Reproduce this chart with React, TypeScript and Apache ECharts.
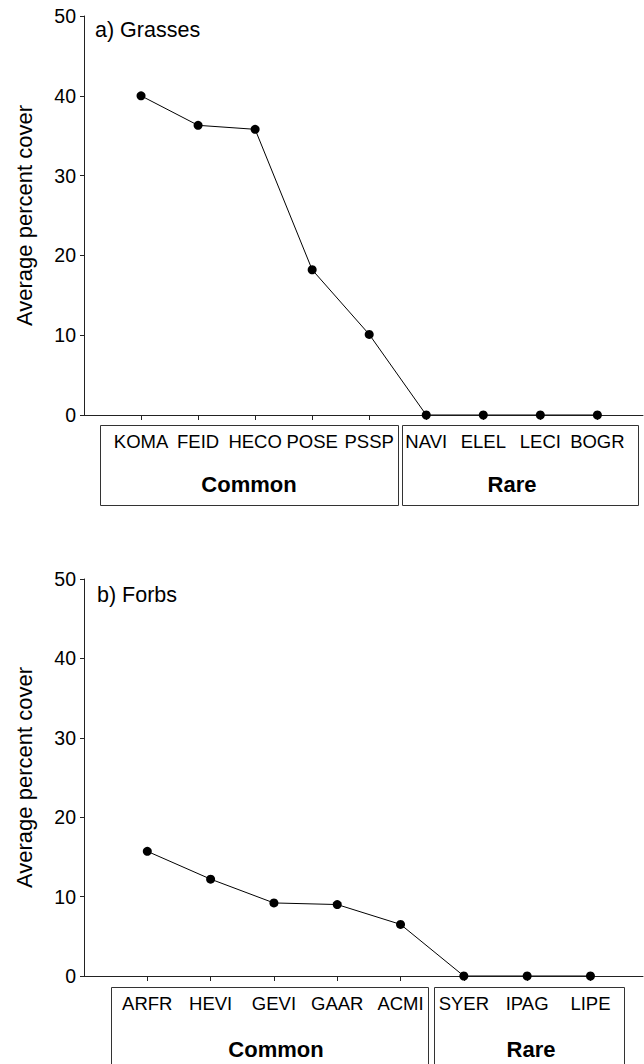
import React, { useEffect, useRef } from "react";
import * as echarts from "echarts";

// Grass species, ordered by cover
const grassNames = ["KOMA", "FEID", "HECO", "POSE", "PSSP", "NAVI", "ELEL", "LECI", "BOGR"];
const grassCover = [40.0, 36.3, 35.8, 18.2, 10.1, 0, 0, 0, 0];

// Forb species, ordered by cover
const forbNames = ["ARFR", "HEVI", "GEVI", "GAAR", "ACMI", "SYER", "IPAG", "LIPE"];
const forbCover = [15.7, 12.2, 9.2, 9.0, 6.5, 0, 0, 0];

const yTicks = [0, 10, 20, 30, 40, 50];
const panelTitles = ["a) Grasses", "b) Forbs"];
const groupNames = ["Common", "Rare"];
const yName = "Average percent cover";

const FONT = "'Liberation Sans', Arial, Helvetica, sans-serif";
const INK = "#000";
const AXIS = "#222";

export default function App() {
  const ref = useRef<HTMLDivElement>(null);

  useEffect(() => {
    if (!ref.current) return;
    const chart = echarts.init(ref.current, null, { renderer: "svg" });

    const panels = [
      { names: grassNames, values: grassCover, top: 16, height: 399, max: 9.8 },
      { names: forbNames, values: forbCover, top: 579, height: 397, max: 8.83 },
    ];

    const grids = panels.map((p) => ({
      left: 84,
      top: p.top,
      width: 559,
      height: p.height,
      containLabel: false,
    }));

    const xAxes = panels.map((p, i) => ({
      type: "value" as const,
      gridIndex: i,
      min: 0,
      max: p.max,
      interval: 1,
      splitLine: { show: false },
      axisLine: { show: true, lineStyle: { color: AXIS, width: 1 } },
      axisTick: {
        show: true,
        inside: false,
        length: 5,
        lineStyle: { color: AXIS, width: 1 },
        customValues: p.names.map((_, k) => k + 1),
      },
      axisLabel: {
        show: true,
        margin: i === 0 ? 26 : 27,
        verticalAlign: "middle",
        color: INK,
        fontFamily: FONT,
        fontSize: 18.5,
        customValues: p.names.map((_, k) => k + 1),
        formatter: (v: number) => p.names[Math.round(v) - 1] ?? "",
      },
    }));

    const yAxes = panels.map((_, i) => ({
      type: "value" as const,
      gridIndex: i,
      min: yTicks[0],
      max: yTicks[yTicks.length - 1],
      interval: yTicks[1] - yTicks[0],
      name: yName,
      nameLocation: "middle" as const,
      nameGap: 49,
      nameTextStyle: { color: INK, fontFamily: FONT, fontSize: 22 },
      splitLine: { show: false },
      axisLine: { show: true, lineStyle: { color: AXIS, width: 1 } },
      axisTick: { show: true, inside: false, length: 4, lineStyle: { color: AXIS, width: 1 } },
      axisLabel: { color: INK, fontFamily: FONT, fontSize: 19.5, margin: 8 },
    }));

    const series = panels.map((p, i) => ({
      type: "line" as const,
      xAxisIndex: i,
      yAxisIndex: i,
      data: p.values.map((v, k) => [k + 1, v]),
      symbol: "circle",
      symbolSize: 9,
      showAllSymbol: true,
      lineStyle: { color: INK, width: 1 },
      itemStyle: { color: INK },
      z: 3,
    }));

    // Group boxes under each x axis
    const boxes = [
      { x: 100.5, y: 425.5, w: 298, h: 80, label: groupNames[0], lx: 249, ly: 484 },
      { x: 402.5, y: 425.5, w: 236, h: 80, label: groupNames[1], lx: 512, ly: 484 },
      { x: 111.5, y: 987.5, w: 317, h: 90, label: groupNames[0], lx: 276, ly: 1049 },
      { x: 434.5, y: 987.5, w: 190, h: 90, label: groupNames[1], lx: 531, ly: 1049 },
    ];

    const graphic: any[] = [];
    boxes.forEach((b) => {
      graphic.push({
        type: "rect",
        shape: { x: b.x, y: b.y, width: b.w, height: b.h },
        style: { fill: "none", stroke: "#333", lineWidth: 1 },
        silent: true,
      });
      graphic.push({
        type: "text",
        x: b.lx,
        y: b.ly,
        style: {
          text: b.label,
          fill: INK,
          font: `bold 22px ${FONT}`,
          textAlign: "center",
          textVerticalAlign: "middle",
        },
        silent: true,
      });
    });
    [
      { t: panelTitles[0], x: 95, y: 30 },
      { t: panelTitles[1], x: 97, y: 595 },
    ].forEach((tt) => {
      graphic.push({
        type: "text",
        x: tt.x,
        y: tt.y,
        style: {
          text: tt.t,
          fill: INK,
          font: `21.5px ${FONT}`,
          textAlign: "left",
          textVerticalAlign: "middle",
        },
        silent: true,
      });
    });

    chart.setOption({
      animation: false,
      backgroundColor: "#fff",
      grid: grids,
      xAxis: xAxes,
      yAxis: yAxes,
      series,
      graphic,
    });

    return () => chart.dispose();
  }, []);

  return (
    <div
      ref={ref}
      style={{ position: "absolute", left: 0, top: 0, width: 644, height: 1064, background: "#fff" }}
    />
  );
}
